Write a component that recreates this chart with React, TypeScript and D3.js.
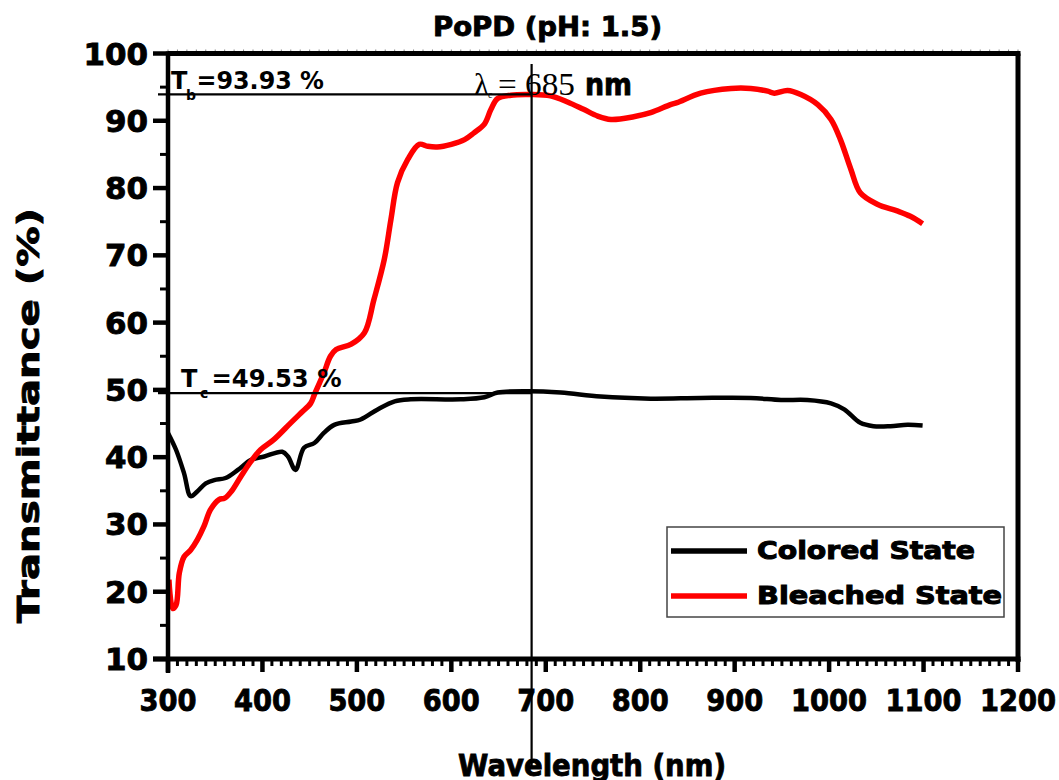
import React from "react";
import * as d3 from "d3";

const bleachedWl = [301, 305, 308.5, 312, 317, 324, 331, 338, 345, 354, 360, 367, 377, 388, 398, 412, 430, 441, 451, 455, 465, 472, 478, 494, 508, 518, 529, 536, 543, 554, 566, 575, 585, 600, 614, 624, 635, 642, 649, 663, 684, 705, 723, 740, 755, 769, 793, 811, 832, 839, 864, 896, 917, 935, 942, 956, 970, 988, 1002, 1012, 1023, 1033, 1051, 1072, 1086, 1099];
const bleachedT = [21.8, 17.5, 18.0, 22.8, 25.2, 26.2, 27.7, 29.7, 32.2, 33.7, 33.9, 34.9, 37.1, 39.4, 41.1, 42.6, 45.1, 46.6, 48.0, 49.3, 52.5, 55.0, 56.0, 56.8, 58.5, 63.4, 69.4, 75.3, 80.8, 84.3, 86.5, 86.2, 86.1, 86.5, 87.2, 88.2, 89.5, 91.7, 93.3, 93.8, 93.9, 93.7, 92.8, 91.7, 90.7, 90.2, 90.6, 91.2, 92.4, 92.7, 94.1, 94.8, 94.8, 94.4, 94.1, 94.5, 93.9, 92.4, 90.2, 87.2, 82.8, 79.3, 77.6, 76.6, 75.8, 74.7];

const coloredWl = [300, 308.5, 317, 324, 331, 340, 349, 361, 374, 388, 402, 421, 427, 435, 444, 455, 465, 476, 494, 504, 522, 540, 557, 610, 635, 649, 681, 716, 758, 811, 864, 917, 949, 977, 1002, 1016, 1033, 1047, 1065, 1083, 1099];
const coloredT = [43.6, 41.1, 37.6, 34.2, 34.9, 36.1, 36.6, 36.9, 38.1, 39.6, 40.1, 40.8, 40.1, 38.1, 41.4, 42.1, 43.6, 44.8, 45.3, 45.6, 47.1, 48.3, 48.6, 48.6, 48.9, 49.6, 49.8, 49.6, 49.0, 48.7, 48.8, 48.8, 48.5, 48.5, 48.0, 47.1, 45.1, 44.6, 44.6, 44.8, 44.7];

const xTicks = [300, 400, 500, 600, 700, 800, 900, 1000, 1100, 1200];
const yTicks = [10, 20, 30, 40, 50, 60, 70, 80, 90, 100];
const seriesNames = ["Colored State", "Bleached State"];
const seriesColors = ["#000000", "#ff0000"];
const Tb = 93.93;
const Tc = 49.53;
const lambda = 685;

const FONT = "'DejaVu Sans', Arial, sans-serif";
const SERIF = "'Liberation Serif', 'Times New Roman', serif";

export default function App() {
  const left = 168, right = 1018, top = 53.5, bottom = 659;
  const x = d3.scaleLinear().domain([300, 1200]).range([left, right]);
  const y = d3.scaleLinear().domain([10, 100]).range([bottom, top]);

  const line = d3
    .line<[number, number]>()
    .x((d) => x(d[0]))
    .y((d) => y(d[1]))
    .curve(d3.curveCatmullRom.alpha(0.5));

  const bleached = bleachedWl.map((w, i) => [w, bleachedT[i]] as [number, number]);
  const colored = coloredWl.map((w, i) => [w, coloredT[i]] as [number, number]);

  const minorX = d3.range(300, 1201, 10).filter((v) => v % 100 !== 0);
  const minorY = d3.range(15, 100, 10);

  const lx = x(lambda);
  const heavy = { stroke: "#000", strokeWidth: 0.9 };

  return (
    <svg width={1059} height={780} style={{ position: "absolute", left: 0, top: 0, background: "#fff" }} fontFamily={FONT}>
      <rect x={0} y={0} width={1059} height={780} fill="#fff" />
      {/* title */}
      <text x={547.5} y={36} textAnchor="middle" fontWeight="bold" fontSize={27} textLength={229} lengthAdjust="spacingAndGlyphs" {...heavy}>
        PoPD (pH: 1.5)
      </text>

      {/* top minor ticks */}
      {d3.range(300, 1201, 10).map((v) => (
        <line key={"tt" + v} x1={x(v)} x2={x(v)} y1={top - 4} y2={top} stroke="#888" strokeWidth={1} />
      ))}

      {/* frame */}
      <line x1={left} x2={right + 2.5} y1={top} y2={top} stroke="#000" strokeWidth={5} />
      <line x1={right} x2={right} y1={top} y2={bottom + 3} stroke="#000" strokeWidth={5} />

      {/* curves */}
      <path d={line(colored) || ""} fill="none" stroke={seriesColors[0]} strokeWidth={4.5} strokeLinejoin="round" />
      <path d={line(bleached) || ""} fill="none" stroke={seriesColors[1]} strokeWidth={5.5} strokeLinejoin="round" />

      {/* reference lines */}
      <line x1={158} x2={lx} y1={y(Tb)} y2={y(Tb)} stroke="#000" strokeWidth={2.2} />
      <line x1={158} x2={lx} y1={y(Tc)} y2={y(Tc)} stroke="#000" strokeWidth={2.2} />
      <line x1={lx} x2={lx} y1={64} y2={766} stroke="#000" strokeWidth={2.2} />

      {/* axes */}
      <line x1={left} x2={left} y1={top - 2} y2={bottom + 14} stroke="#000" strokeWidth={4.5} />
      <line x1={left - 15} x2={right + 2.5} y1={bottom} y2={bottom} stroke="#000" strokeWidth={5} />
      {yTicks.map((v) => (
        <line key={"yt" + v} x1={left - 15} x2={left} y1={y(v)} y2={y(v)} stroke="#000" strokeWidth={4.5} />
      ))}
      {minorY.map((v) => (
        <line key={"ym" + v} x1={left - 8} x2={left} y1={y(v)} y2={y(v)} stroke="#000" strokeWidth={3} />
      ))}
      {xTicks.map((v) => (
        <line key={"xt" + v} x1={x(v)} x2={x(v)} y1={bottom} y2={bottom + 13} stroke="#000" strokeWidth={4.5} />
      ))}
      {minorX.map((v) => (
        <line key={"xm" + v} x1={x(v)} x2={x(v)} y1={bottom} y2={bottom + 7} stroke="#000" strokeWidth={3} />
      ))}

      {/* tick labels */}
      {yTicks.map((v) => {
        const s = String(v);
        return (
          <text key={"yl" + v} x={148} y={y(v) + 11} textAnchor="end" fontWeight="bold" fontSize={31} textLength={s.length * 21.5} lengthAdjust="spacingAndGlyphs" {...heavy}>
            {s}
          </text>
        );
      })}
      {xTicks.map((v) => {
        const s = String(v);
        return (
          <text key={"xl" + v} x={x(v)} y={711} textAnchor="middle" fontWeight="bold" fontSize={31} textLength={s.length * 19} lengthAdjust="spacingAndGlyphs" {...heavy}>
            {s}
          </text>
        );
      })}

      {/* axis titles */}
      <text x={592} y={776} textAnchor="middle" fontWeight="bold" fontSize={31} textLength={268} lengthAdjust="spacingAndGlyphs" {...heavy}>
        Wavelength (nm)
      </text>
      <text transform="translate(39,415.5) rotate(-90)" textAnchor="middle" fontWeight="bold" fontSize={31} textLength={415} lengthAdjust="spacingAndGlyphs" {...heavy}>
        Transmittance (%)
      </text>

      {/* annotations */}
      <text x={171} y={89.3} fontSize={24} fontWeight="bold">T</text>
      <text x={186} y={100} fontSize={14} fontWeight="bold">b</text>
      <text x={196.5} y={89.3} fontSize={24} fontWeight="bold" textLength={127.5} lengthAdjust="spacingAndGlyphs">=93.93 %</text>

      <text x={181} y={386.7} fontSize={24} fontWeight="bold">T</text>
      <text x={200} y={398} fontSize={14} fontWeight="bold">c</text>
      <text x={211.5} y={386.7} fontSize={24} fontWeight="bold" textLength={130} lengthAdjust="spacingAndGlyphs">=49.53 %</text>

      <text x={474} y={95} fontSize={31} fontFamily={SERIF}>λ</text>
      <text x={488} y={98} fontSize={10} fontFamily={SERIF}>c</text>
      <text x={498} y={95} fontSize={31} fontFamily={SERIF} textLength={77} lengthAdjust="spacingAndGlyphs">= 685</text>
      <text x={585} y={95} fontSize={30} fontWeight="bold" textLength={47} lengthAdjust="spacingAndGlyphs" {...heavy}>nm</text>

      {/* legend */}
      <rect x={667} y={527} width={337} height={90} fill="#fff" stroke="#444" strokeWidth={1.5} />
      {seriesNames.map((n, i) => {
        const ly = i === 0 ? 551 : 596;
        const ty = i === 0 ? 558.5 : 603.5;
        const len = i === 0 ? 218 : 245;
        return (
          <g key={n}>
            <line x1={671} x2={747} y1={ly} y2={ly} stroke={seriesColors[i]} strokeWidth={5.5} />
            <text x={757} y={ty} fontSize={24} fontWeight="bold" textLength={len} lengthAdjust="spacingAndGlyphs" stroke="#000" strokeWidth={1}>
              {n}
            </text>
          </g>
        );
      })}
    </svg>
  );
}
